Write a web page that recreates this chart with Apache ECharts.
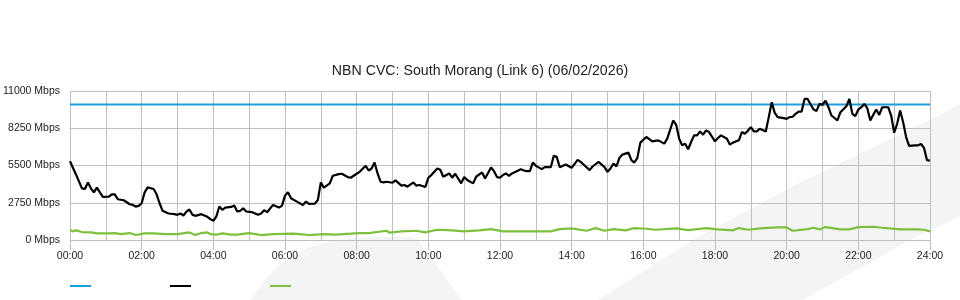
<!DOCTYPE html>
<html>
<head>
<meta charset="utf-8">
<script src="https://cdn.jsdelivr.net/npm/echarts@6/dist/echarts.min.js"></script>
<style>
html,body{margin:0;padding:0;background:#fff;}
#chart{width:960px;height:300px;}
</style>
</head>
<body>
<div id="chart"></div>
<script>
var titleText = 'NBN CVC: South Morang (Link 6) (06/02/2026)';
var xTickLabels = ['00:00','02:00','04:00','06:00','08:00','10:00','12:00','14:00','16:00','18:00','20:00','22:00','24:00'];
var yTickLabels = ['0 Mbps','2750 Mbps','5500 Mbps','8250 Mbps','11000 Mbps'];
var seriesNames = ['Capacity','Download','Upload'];

// minutes after midnight
var capacityTimes = [0, 1440];
var capacityValues = [10000, 10000];

var downloadTimes = [0,10,20,25,30,35,40,45,50,55,65,70,75,80,90,100,105,110,115,120,125,130,140,145,150,155,165,175,180,185,190,195,200,205,210,220,230,235,240,245,250,255,260,270,275,280,285,290,295,305,315,320,325,330,340,350,355,360,365,370,380,390,395,400,410,415,420,425,435,440,450,455,465,470,480,485,495,500,505,510,515,520,525,530,540,545,555,560,565,575,580,585,595,600,605,615,620,625,635,640,645,655,660,665,675,680,690,695,705,710,715,720,725,730,735,740,755,760,765,770,775,780,790,795,805,810,815,820,830,840,850,855,860,870,875,885,895,900,905,910,915,920,925,935,940,945,950,955,965,970,975,985,995,1000,1010,1015,1020,1025,1030,1035,1040,1045,1050,1055,1060,1065,1070,1080,1085,1090,1100,1105,1110,1120,1125,1130,1135,1140,1145,1150,1155,1165,1170,1175,1180,1185,1195,1200,1205,1210,1215,1220,1225,1230,1235,1245,1250,1255,1260,1265,1270,1275,1285,1290,1300,1305,1310,1315,1320,1325,1330,1335,1340,1345,1350,1355,1360,1370,1375,1380,1385,1390,1395,1400,1405,1415,1420,1425,1430,1435,1440];
var downloadValues = [5815,4840,3813,3763,4253,3813,3520,3862,3520,3177,3202,3373,3373,3007,2933,2640,2590,2468,2517,2713,3520,3887,3763,3373,2713,2151,1955,1907,1858,1955,1808,2100,2250,1858,1785,1907,1711,1540,1418,1735,2468,2225,2395,2444,2542,2102,2151,2347,2102,2053,1858,1955,2200,2053,2590,2395,2542,3275,3520,3080,2835,2590,2835,2665,2689,2957,4253,3862,4180,4742,4864,4889,4645,4596,4889,5035,5475,5133,5280,5720,4913,4302,4253,4302,4229,4400,4009,4058,3936,4253,4009,4058,3911,4596,4791,5280,5182,4669,4913,4596,4889,4180,4645,4425,4180,4669,4987,4547,5353,5084,4645,4596,4800,4913,4742,4913,5231,5133,5084,5084,5720,5475,5231,5377,5377,6209,6135,5377,5573,5328,5915,5768,5573,5158,5426,5768,5377,5035,5280,5647,5426,6062,6306,6453,5890,5720,6062,7187,7602,7450,7284,7357,7113,7480,8823,8507,7480,6990,7113,6697,7236,7724,7724,8017,7773,8091,7968,7284,7529,7724,7480,7040,7187,7357,7968,7847,8067,8335,8017,8017,8213,8017,9070,10170,9387,9070,8997,8947,9070,9100,9313,9484,9484,10413,10413,9631,9533,10047,9973,10291,9802,9191,8823,9436,9875,10413,9313,9142,9631,9802,10047,9728,8823,9240,9631,9240,9802,9802,9191,7920,8580,9557,8700,7602,6942,6992,6992,7089,6796,5890,5866];

var uploadTimes = [0,5,10,20,35,45,65,75,85,100,110,125,140,160,180,200,210,220,230,235,245,255,270,280,300,320,340,375,400,425,445,470,485,500,530,535,555,580,595,615,640,660,685,705,725,755,805,820,840,865,880,895,910,930,945,965,980,1015,1035,1065,1085,1110,1120,1135,1160,1185,1200,1210,1235,1245,1255,1265,1290,1305,1320,1345,1360,1390,1420,1430,1440];
var uploadValues = [757,635,709,587,562,489,489,513,440,513,367,489,489,440,440,562,367,513,562,440,391,489,391,391,513,367,440,464,367,440,391,464,513,513,684,538,635,684,562,757,709,635,709,807,635,635,635,807,856,684,880,684,807,709,880,831,757,856,733,880,782,709,880,757,880,929,929,684,807,905,782,953,782,782,953,978,905,782,782,757,635];

function pairs(t, v) { return t.map(function (x, i) { return [x, v[i]]; }); }

var chart = echarts.init(document.getElementById('chart'), null, {renderer: 'canvas'});
var gridColor = '#bfbfbf';
var font = '"Liberation Sans", Arial, sans-serif';

chart.setOption({
  animation: false,
  backgroundColor: '#ffffff',
  textStyle: {fontFamily: font},
  title: {
    text: titleText,
    left: 'center',
    top: 59,
    textStyle: {fontFamily: font, fontSize: 14.2, fontWeight: 'normal', color: '#222'}
  },
  graphic: [
    {type: 'polygon', z: -10, silent: true,
     shape: {points: [[250,300],[262,284],[276,268],[292,256],[310,247],[330,241],[352,238],[372,237],[410,237],[417,239],[422,245],[462,300]]},
     style: {fill: '#f3f4f6'}},
    {type: 'polygon', z: -10, silent: true,
     shape: {points: [[598,300],[693,240],[795,185],[940,115],[960,104],[960,216],[910,240],[803,300]]},
     style: {fill: '#f3f4f6'}}
  ],
  legend: {
    left: 70,
    top: 285,
    padding: 0,
    itemWidth: 21,
    itemHeight: 2,
    itemGap: 79,
    icon: 'rect',
    data: seriesNames,
    formatter: function () { return ''; },
    selectedMode: false
  },
  grid: {left: 70, right: 30, top: 91, bottom: 60, show: false, containLabel: false, outerBoundsMode: 'none'},
  xAxis: {
    type: 'value',
    min: 0, max: 1440, interval: 120,
    axisLine: {show: true, lineStyle: {color: gridColor}},
    axisTick: {show: true, length: 10, lineStyle: {color: gridColor}},
    minorTick: {show: false, splitNumber: 2},
    minorSplitLine: {show: true, lineStyle: {color: gridColor, width: 1}},
    splitLine: {show: true, lineStyle: {color: gridColor, width: 1}},
    axisLabel: {
      margin: 11, fontSize: 10.5, color: '#222', fontFamily: font,
      formatter: function (v) { return xTickLabels[Math.round(v / 120)]; }
    }
  },
  yAxis: {
    type: 'value',
    min: 0, max: 11000, interval: 2750,
    axisLine: {show: false},
    axisTick: {show: false},
    splitLine: {show: true, lineStyle: {color: gridColor, width: 1}},
    axisLabel: {
      margin: 10, fontSize: 10.5, color: '#222', fontFamily: font,
      formatter: function (v) { return yTickLabels[Math.round(v / 2750)]; }
    }
  },
  series: [
    {name: seriesNames[0], type: 'line', data: pairs(capacityTimes, capacityValues),
     showSymbol: false, lineStyle: {color: '#1b9ddb', width: 2}, itemStyle: {color: '#1b9ddb'}, z: 3},
    {name: seriesNames[1], type: 'line', data: pairs(downloadTimes, downloadValues),
     showSymbol: false, lineStyle: {color: '#000000', width: 2.2}, itemStyle: {color: '#000000'}, z: 4},
    {name: seriesNames[2], type: 'line', data: pairs(uploadTimes, uploadValues),
     showSymbol: false, lineStyle: {color: '#7cc03b', width: 2.2}, itemStyle: {color: '#7cc03b'}, z: 4}
  ]
});
</script>
</body>
</html>
